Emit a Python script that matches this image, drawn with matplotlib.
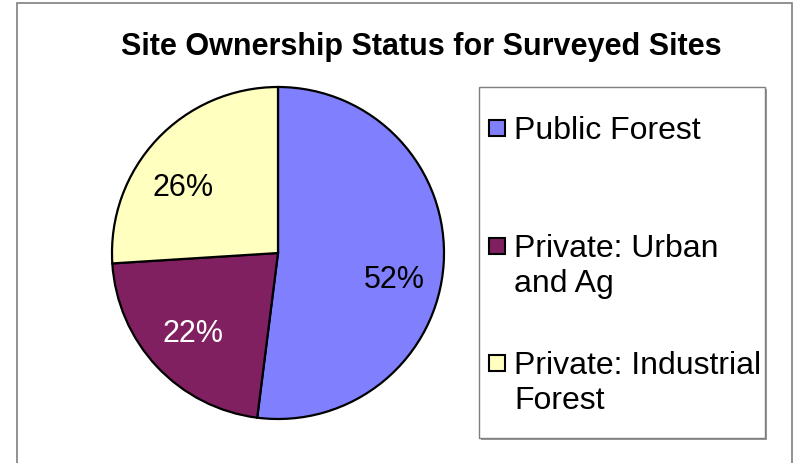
import matplotlib
matplotlib.use("Agg")
import matplotlib.pyplot as plt
from matplotlib.patches import Rectangle

plt.rcParams['font.family'] = ['Liberation Sans', 'DejaVu Sans']

categories = ["Public Forest", "Private: Urban\nand Ag", "Private: Industrial\nForest"]
shares = [52, 22, 26]
colors = ["#8080FF", "#802060", "#FFFFC0"]
pct_colors = ["black", "white", "black"]

W, H = 795, 464
fig = plt.figure(figsize=(W / 100, H / 100), dpi=100)

def fx(px):
    return px / W

def fy(py):
    return 1 - py / H

# outer chart frame (bottom runs off the canvas)
fig.patches.append(Rectangle((fx(17), fy(470)), fx(792) - fx(17), fy(4) - fy(470),
                             transform=fig.transFigure, fill=False,
                             edgecolor="#7f7f7f", linewidth=1.2))

fig.text(fx(421), fy(47), "Site Ownership Status for Surveyed Sites",
         ha="center", va="center", fontsize=22, fontweight="bold")

# pie area
cx, cy, r = 278, 254, 166
ax = fig.add_axes([fx(cx - r), fy(cy + r), 2 * r / W, 2 * r / H])
wedges, _, autotexts = ax.pie(
    shares, colors=colors, startangle=90, counterclock=False,
    autopct="%d%%", pctdistance=0.7,
    wedgeprops=dict(edgecolor="black", linewidth=1.6),
    textprops=dict(fontsize=22))
ax.set_xlim(-1.0, 1.0)
ax.set_ylim(-1.0, 1.0)
ax.set_aspect("auto")
ax.axis("off")
for t, c in zip(autotexts, pct_colors):
    t.set_color(c)
# nudge the large-slice label the way the spreadsheet places it
x0, y0 = autotexts[0].get_position()
autotexts[0].set_position((x0, y0 - 0.11))
x2, y2 = autotexts[2].get_position()
autotexts[2].set_position((x2 - 0.06, y2 - 0.08))

# legend box with shadow
lx0, ly0, lx1, ly1 = 479, 88, 765, 439
fig.patches.append(Rectangle((fx(lx0 + 2), fy(ly1 + 2)), fx(lx1) - fx(lx0), fy(ly0) - fy(ly1),
                             transform=fig.transFigure, facecolor="#9a9a9a",
                             edgecolor="none", zorder=1))
fig.patches.append(Rectangle((fx(lx0), fy(ly1)), fx(lx1) - fx(lx0), fy(ly0) - fy(ly1),
                             transform=fig.transFigure, facecolor="white",
                             edgecolor="#7f7f7f", linewidth=1.0, zorder=2))

entry_y = [129, 247, 364]
sq = 16
for label, col, yy in zip(categories, colors, entry_y):
    fig.patches.append(Rectangle((fx(497 - sq / 2), fy(yy + sq / 2)), sq / W, sq / H,
                                 transform=fig.transFigure, facecolor=col,
                                 edgecolor="black", linewidth=1.5, zorder=3))
    fig.text(fx(514), fy(yy - 13), label, ha="left", va="top",
             fontsize=23, linespacing=1.22, zorder=4)

fig.savefig("out.png", dpi=100)
